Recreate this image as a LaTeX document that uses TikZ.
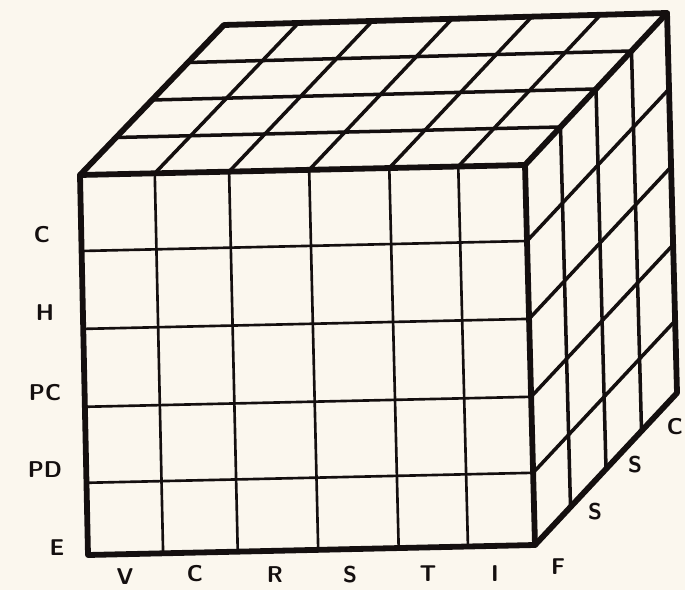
\documentclass[tikz,border=0pt]{standalone}
\usepackage{tikz}
\usetikzlibrary{calc}
\usepackage{xcolor}
\definecolor{paper}{RGB}{251,247,238}
\definecolor{ink}{RGB}{20,15,15}

\begin{document}
\begin{tikzpicture}[
  x=0.02cm, y=-0.02cm,
  edge/.style={draw=ink, line width=3.3pt, line join=round, line cap=round},
  grid/.style={draw=ink, line width=1.5pt, line cap=round},
  topgrid/.style={draw=ink, line width=2pt, line cap=round},
  lbl/.style={text=ink, font=\fontsize{13}{15}\selectfont\sffamily\bfseries, inner sep=0pt}
]
\fill[paper] (0,0) rectangle (685,590);
\useasboundingbox (0,0) rectangle (685,590);

% corners of the cube
\coordinate (ftl) at (80,175);
\coordinate (ftr) at (525,165);
\coordinate (fbr) at (535,545);
\coordinate (fbl) at (88,555);
\coordinate (btl) at (224,25);
\coordinate (btr) at (667,13);
\coordinate (bbr) at (677,393);

% front face and right face grid
\foreach \t in {0.168,0.335,0.515,0.695,0.85}
  \draw[grid] ($(ftl)!\t!(ftr)$) -- ($(fbl)!\t!(fbr)$);
\foreach \s in {0.2,0.405,0.61,0.81} {
  \draw[grid] ($(ftl)!\s!(fbl)$) -- ($(ftr)!\s!(fbr)$);
  \draw[topgrid] ($(ftr)!\s!(fbr)$) -- ($(btr)!\s!(bbr)$);
}
\foreach \u in {0.25,0.5,0.75}
  \draw[topgrid] ($(ftr)!\u!(btr)$) -- ($(fbr)!\u!(bbr)$);

% top face grid
\foreach \t in {0.168,0.335,0.515,0.695,0.85}
  \draw[topgrid] ($(ftl)!\t!(ftr)$) -- ($(btl)!\t!(btr)$);
\foreach \u in {0.25,0.5,0.75}
  \draw[topgrid] ($(ftl)!\u!(btl)$) -- ($(ftr)!\u!(btr)$);

% outline
\draw[edge] (ftl) -- (ftr) -- (fbr) -- (fbl) -- cycle;
\draw[edge] (ftl) -- (btl) -- (btr) -- (ftr);
\draw[edge] (btr) -- (bbr) -- (fbr);

% left labels
\node[lbl] (rowc) at (42,235) {C};
\node[lbl] (rowh) at (45,313) {H};
\node[lbl] (rowpc) at (45,393) {PC};
\node[lbl] (rowpd) at (45,470) {PD};
\node[lbl] (rowe) at (57,548) {E};

% bottom labels
\node[lbl] (colv) at (125,577) {V};
\node[lbl] (colc) at (195,574) {C};
\node[lbl] (colr) at (275,575) {R};
\node[lbl] (cols) at (350,575) {S};
\node[lbl] (colt) at (428,574) {T};
\node[lbl] (coli) at (495,574) {I};

% depth labels
\node[lbl] (depf) at (558,567) {F};
\node[lbl] (deps) at (595,512) {S};
\node[lbl] (depss) at (635,465) {S};
\node[lbl] (depc) at (675,427) {C};
\end{tikzpicture}
\end{document}
